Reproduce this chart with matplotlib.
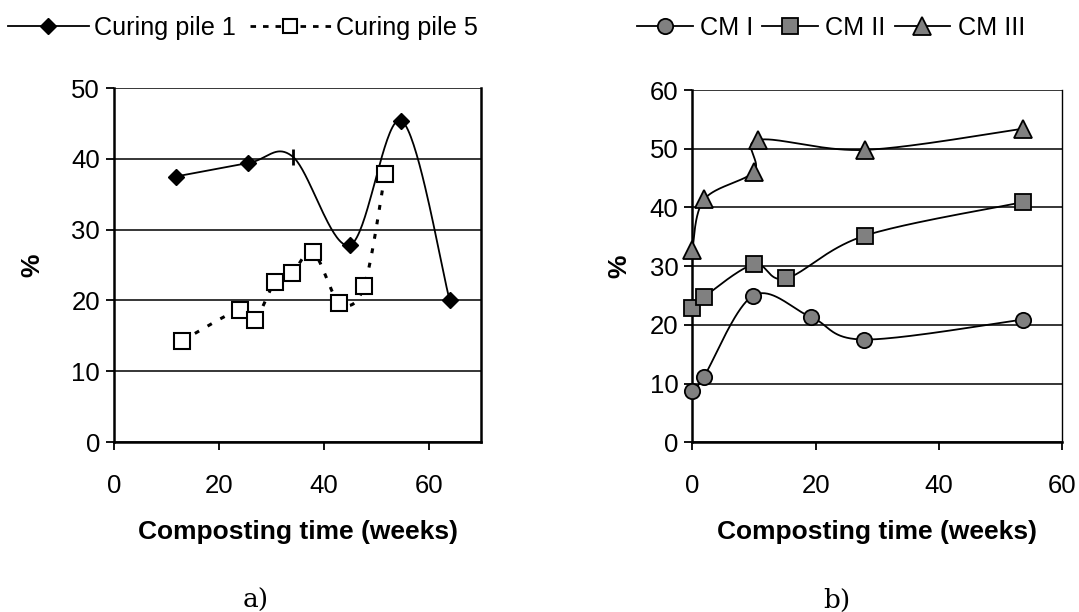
import numpy as np
import matplotlib
matplotlib.use("Agg")
import matplotlib.pyplot as plt
from matplotlib.lines import Line2D

plt.rcParams['font.family'] = ['Liberation Sans', 'DejaVu Sans']

# datos
pile1_x = [11.8, 25.6, 34.1, 45.0, 54.8, 64.0]
pile1_y = [37.5, 39.4, 40.3, 27.8, 45.4, 20.1]
pile5_x = [13.0, 24.0, 26.9, 30.7, 34.0, 38.0, 43.0, 47.7, 51.7]
pile5_y = [14.3, 18.7, 17.3, 22.6, 23.9, 26.8, 19.7, 22.0, 37.9]

cm1_x = [0, 1.85, 9.9, 19.3, 27.9, 53.6]
cm1_y = [8.7, 11.1, 25.0, 21.3, 17.5, 20.9]
cm2_x = [0, 1.95, 10.0, 15.2, 28.0, 53.6]
cm2_y = [22.9, 24.8, 30.3, 27.9, 35.2, 40.9]
cm3_x = [0, 1.95, 10.0, 10.7, 28.0, 53.6]
cm3_y = [32.8, 41.4, 46.1, 51.5, 49.8, 53.4]

FS = 19      # etiquetas de ejes
FT = 18.5    # numeros de los ejes
FL = 18.2    # leyendas


def smooth(x, y, n=40):
    # curva suavizada tipo Excel (Bezier con tangentes Catmull-Rom)
    p = np.column_stack([x, y]).astype(float)
    pts = [p[0]]
    t = np.linspace(0, 1, n)[1:, None]
    for i in range(len(p) - 1):
        p0 = p[i - 1] if i > 0 else p[i]
        p3 = p[i + 2] if i + 2 < len(p) else p[i + 1]
        c1 = p[i] + (p[i + 1] - p0) / 6
        c2 = p[i + 1] - (p3 - p[i]) / 6
        seg = (1 - t)**3 * p[i] + 3 * (1 - t)**2 * t * c1 + 3 * (1 - t) * t**2 * c2 + t**3 * p[i + 1]
        pts.extend(seg)
    pts = np.array(pts)
    return pts[:, 0], pts[:, 1]


def style_axes(ax, xmax, ymax, ystep):
    ax.set_xlim(0, xmax)
    ax.set_ylim(0, ymax)
    ax.set_xticks(np.arange(0, xmax + 1, 20))
    ax.set_yticks(np.arange(0, ymax + 1, ystep))
    ax.yaxis.grid(True, color='black', linewidth=1.1)
    ax.set_axisbelow(True)
    for s in ['left', 'bottom']:
        ax.spines[s].set_linewidth(1.8)
    ax.spines['top'].set_visible(False)
    ax.spines['right'].set_linewidth(1.0)
    ax.tick_params(axis='both', direction='out', length=6, width=1.3, labelsize=FT)
    ax.tick_params(axis='x', pad=17)
    ax.tick_params(axis='y', pad=4)
    ax.set_xlabel('Composting time (weeks)', fontsize=FS, fontweight='bold', labelpad=16)
    ax.set_ylabel('%', fontsize=FS, fontweight='bold')


fig = plt.figure(figsize=(10.79, 6.12), dpi=100)

# panel a)
ax1 = fig.add_axes([114 / 1079, 170 / 612, 367 / 1079, 354 / 612])
style_axes(ax1, 70, 50, 10)
ax1.spines['right'].set_linewidth(1.8)
ax1.yaxis.set_label_coords(-0.19, 0.5)

sx, sy = smooth(pile1_x, pile1_y)
ax1.plot(sx, sy, color='black', linewidth=1.3, zorder=3)
idx = [0, 1, 3, 4, 5]
ax1.plot([pile1_x[i] for i in idx], [pile1_y[i] for i in idx], linestyle='none',
         marker='D', markersize=8, color='black', zorder=4)
ax1.plot([pile1_x[2]], [pile1_y[2]], linestyle='none', marker='|', markersize=12,
         markeredgewidth=2, color='black', zorder=4)

sx, sy = smooth(pile5_x, pile5_y)
ax1.plot(sx, sy, color='black', linewidth=2.2, linestyle=(0, (1.6, 3.2)), zorder=3)
ax1.plot(pile5_x, pile5_y, linestyle='none', marker='s', markersize=11,
         markerfacecolor='white', markeredgecolor='black', markeredgewidth=1.5, zorder=4)

h1 = [Line2D([], [], color='black', linewidth=1.3, marker='D', markersize=8),
      Line2D([], [], color='black', linewidth=2, linestyle=(0, (2, 2.5)), marker='s', markersize=10,
             markerfacecolor='white', markeredgecolor='black', markeredgewidth=1.5)]
fig.legend(h1, ['Curing pile 1', 'Curing pile 5'], loc='center left',
           bbox_to_anchor=(8 / 1079, 1 - 28 / 612), ncol=2, frameon=False, fontsize=FL,
           handlelength=3.2, handletextpad=0.2, columnspacing=0.55, borderpad=0, borderaxespad=0)

# panel b)
ax2 = fig.add_axes([692.3 / 1079, 169.7 / 612, 370 / 1079, 352.3 / 612])
style_axes(ax2, 60, 60, 10)
ax2.yaxis.set_label_coords(-0.165, 0.5)

grey = '#808080'
for xs, ys, mk, ms in [(cm1_x, cm1_y, 'o', 11), (cm2_x, cm2_y, 's', 12), (cm3_x, cm3_y, '^', 13)]:
    sx, sy = smooth(xs, ys)
    ax2.plot(sx, sy, color='black', linewidth=1.3, zorder=3)
    ax2.plot(xs, ys, linestyle='none', marker=mk, markersize=ms, markerfacecolor=grey,
             markeredgecolor='black', markeredgewidth=1.3, zorder=4, clip_on=False)

h2 = [Line2D([], [], color='black', linewidth=1.3, marker=mk, markersize=ms, markerfacecolor=grey,
             markeredgecolor='black', markeredgewidth=1.3)
      for mk, ms in [('o', 11), ('s', 12), ('^', 13)]]
fig.legend(h2, ['CM I', 'CM II', 'CM III'], loc='center left',
           bbox_to_anchor=(637 / 1079, 1 - 28 / 612), ncol=3, frameon=False, fontsize=FL,
           handlelength=2.2, handletextpad=0.3, columnspacing=0.35, borderpad=0, borderaxespad=0)

fig.text(256 / 1079, 1 - 600 / 612, 'a)', fontsize=FS, family='DejaVu Serif', ha='center', va='center')
fig.text(837 / 1079, 1 - 600 / 612, 'b)', fontsize=FS, family='DejaVu Serif', ha='center', va='center')

fig.savefig('out.png', dpi=100)
